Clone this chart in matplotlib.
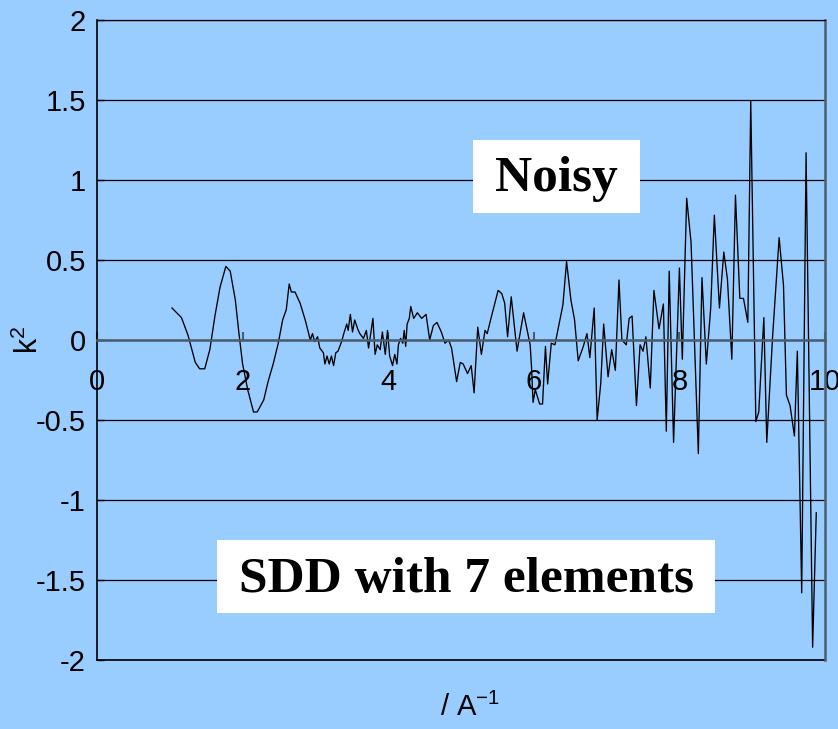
import matplotlib.pyplot as plt
from matplotlib.patches import Rectangle

# k values (A^-1) and k^2-weighted signal
k = [1.03, 1.16, 1.25, 1.35, 1.41, 1.48, 1.55, 1.62, 1.69, 1.77,
     1.83, 1.90, 1.95, 2.00, 2.07, 2.15, 2.20, 2.29, 2.35, 2.42,
     2.49, 2.55, 2.60, 2.64, 2.67, 2.72, 2.79, 2.86, 2.93, 2.96,
     2.99, 3.03, 3.06, 3.11, 3.13, 3.16, 3.19, 3.22, 3.25, 3.28,
     3.31, 3.36, 3.39, 3.43, 3.45, 3.48, 3.51, 3.54, 3.58, 3.61,
     3.66, 3.70, 3.73, 3.76, 3.79, 3.82, 3.85, 3.89, 3.92, 3.96,
     3.99, 4.02, 4.06, 4.09, 4.12, 4.14, 4.17, 4.20, 4.22, 4.24,
     4.26, 4.29, 4.31, 4.35, 4.40, 4.46, 4.52, 4.57, 4.62, 4.67,
     4.73, 4.78, 4.83, 4.87, 4.94, 4.99, 5.03, 5.09, 5.14, 5.18,
     5.23, 5.28, 5.33, 5.36, 5.42, 5.51, 5.56, 5.60, 5.64, 5.69,
     5.77, 5.86, 5.95, 5.97, 5.99, 6.02, 6.08, 6.12, 6.16, 6.19,
     6.24, 6.29, 6.40, 6.45, 6.51, 6.56, 6.61, 6.68, 6.73, 6.77,
     6.83, 6.87, 6.92, 6.96, 7.02, 7.07, 7.12, 7.17, 7.21, 7.27,
     7.31, 7.35, 7.41, 7.46, 7.50, 7.54, 7.60, 7.65, 7.72, 7.78,
     7.82, 7.86, 7.92, 8.00, 8.04, 8.10, 8.16, 8.26, 8.31, 8.37,
     8.43, 8.48, 8.55, 8.61, 8.66, 8.72, 8.77, 8.83, 8.88, 8.94,
     8.98, 9.05, 9.09, 9.16, 9.20, 9.28, 9.37, 9.43, 9.47, 9.52,
     9.58, 9.62, 9.68, 9.74, 9.83, 9.88]
chi = [0.20, 0.14, 0.03, -0.14, -0.18, -0.18, -0.06, 0.15, 0.33, 0.46,
       0.43, 0.25, 0.04, -0.15, -0.31, -0.45, -0.45, -0.375, -0.26, -0.15,
       -0.02, 0.125, 0.19, 0.35, 0.30, 0.30, 0.23, 0.125, 0.0, 0.04,
       -0.01, 0.02, -0.05, -0.08, -0.15, -0.10, -0.15, -0.10, -0.16, -0.08,
       -0.07, -0.01, 0.04, 0.10, 0.06, 0.16, 0.05, 0.125, 0.07, 0.04,
       0.01, 0.06, -0.05, 0.04, 0.135, -0.09, -0.03, -0.06, 0.05, -0.09,
       0.06, -0.10, -0.16, -0.09, -0.15, -0.03, 0.01, -0.02, 0.06, -0.04,
       0.10, 0.135, 0.21, 0.135, 0.17, 0.135, 0.16, 0.0, 0.09, 0.11,
       0.05, -0.02, 0.0, -0.05, -0.26, -0.14, -0.15, -0.21, -0.16, -0.33,
       0.08, -0.09, 0.06, 0.04, 0.15, 0.31, 0.29, 0.23, 0.02, 0.27,
       -0.07, 0.17, -0.03, -0.18, -0.39, -0.31, -0.40, -0.40, -0.04, -0.275,
       -0.02, -0.03, 0.22, 0.49, 0.25, 0.125, -0.13, -0.04, 0.04, -0.11,
       0.20, -0.50, -0.27, 0.10, -0.23, -0.06, -0.19, 0.375, 0.0, -0.03,
       0.135, 0.15, -0.41, -0.03, -0.07, 0.02, -0.30, 0.31, 0.07, 0.225,
       -0.57, 0.43, -0.64, 0.45, -0.12, 0.886, 0.61, -0.71, 0.39, -0.15,
       0.20, 0.78, 0.20, 0.55, 0.38, -0.12, 0.905, 0.26, 0.26, 0.11,
       1.495, -0.51, -0.45, 0.14, -0.64, 0.02, 0.64, 0.34, -0.345, -0.41,
       -0.60, -0.07, -1.58, 1.17, -1.92, -1.08]

x_ticks = [0, 2, 4, 6, 8, 10]
y_ticks = [-2, -1.5, -1, -0.5, 0, 0.5, 1, 1.5, 2]
y_labels = ['-2', '-1.5', '-1', '-0.5', '0', '0.5', '1', '1.5', '2']

bg = '#99ccff'
axis_grey = '#4c5d6e'
W, H = 838, 729

plt.rcParams['font.family'] = ['Liberation Sans', 'DejaVu Sans']

fig = plt.figure(figsize=(W / 100, H / 100), dpi=100, facecolor=bg)
ax = fig.add_axes([97 / W, 1 - 660 / H, 728 / W, 640 / H], facecolor=bg)

ax.plot(k, chi, color='black', linewidth=0.95)

ax.set_xlim(0, 10)
ax.set_ylim(-2, 2)
ax.set_xticks(x_ticks)
ax.set_yticks(y_ticks)
ax.set_yticklabels(y_labels)

# horizontal gridlines, plus the bottom edge line of the plot area
ax.grid(axis='y', color='black', linewidth=0.9)
ax.axhline(-2, color='black', linewidth=1.2, clip_on=False)
ax.set_axisbelow(True)

# x axis crosses at y = 0
ax.spines['bottom'].set_position(('data', 0))
ax.spines['bottom'].set_color(axis_grey)
ax.spines['bottom'].set_linewidth(1.8)
ax.spines['right'].set_color(axis_grey)
ax.spines['right'].set_linewidth(1.8)
ax.spines['left'].set_color('black')
ax.spines['left'].set_linewidth(1.2)
ax.spines['top'].set_color('black')
ax.spines['top'].set_linewidth(0.9)

ax.tick_params(axis='x', direction='in', length=6, width=1.5, color=axis_grey,
               pad=20, labelsize=21)
ax.tick_params(axis='y', direction='in', length=5, width=1, color='black',
               pad=8, labelsize=21)

ax.set_ylabel(r'k$\mathregular{^2}$', fontsize=22)
ax.yaxis.set_label_coords(-0.072, 0.5)
ax.set_xlabel(r'/ A$\mathregular{^{-1}}$', fontsize=21)
ax.xaxis.set_label_coords(0.512, -0.052)

# white annotation boxes
def label_box(x0, y0, x1, y1, text, baseline):
    fig.add_artist(Rectangle((x0 / W, 1 - y1 / H), (x1 - x0) / W, (y1 - y0) / H,
                             transform=fig.transFigure, facecolor='white',
                             edgecolor='none', zorder=5))
    fig.text((x0 + x1) / 2 / W, 1 - baseline / H, text, ha='center',
             va='baseline', fontsize=37, fontweight='bold',
             family='Liberation Serif', zorder=6)

label_box(473, 140, 640, 213, 'Noisy', 191)
label_box(217, 540, 715, 613, 'SDD with 7 elements', 592)

fig.savefig('out.png', dpi=100, facecolor=bg)
